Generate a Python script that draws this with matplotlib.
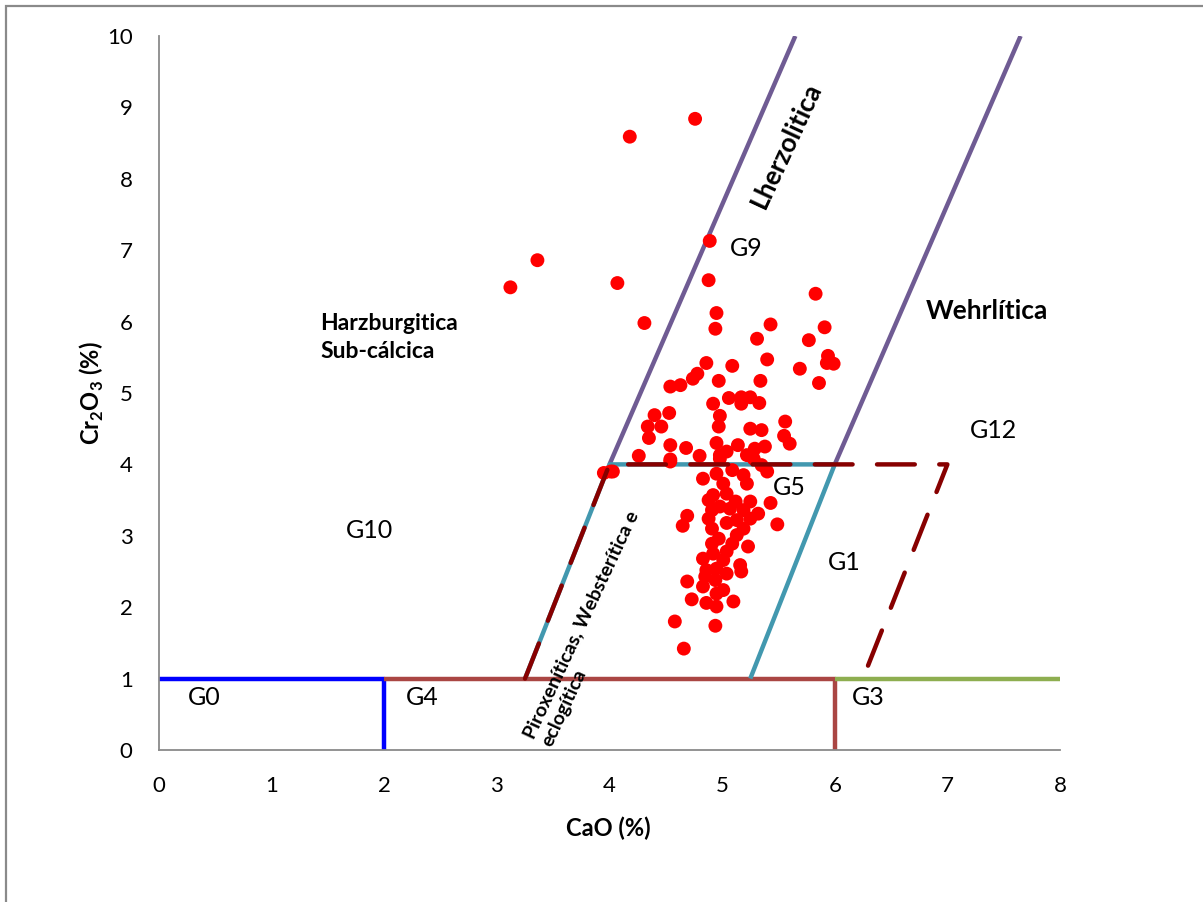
import matplotlib
matplotlib.use("Agg")
import matplotlib.pyplot as plt
from matplotlib.patches import Rectangle

plt.rcParams['font.family'] = ['Lato', 'DejaVu Sans']
plt.rcParams['mathtext.fontset'] = 'custom'
plt.rcParams['mathtext.rm'] = 'Lato:bold'
plt.rcParams['mathtext.bf'] = 'Lato:bold'

# Garnet analyses: CaO (wt%) and Cr2O3 (wt%)
cao = [4.76, 4.18, 3.36, 3.12, 4.07, 4.31, 4.89, 4.88,
       5.83, 4.95, 4.94, 5.43, 5.91, 5.31, 5.77, 5.40, 5.94, 5.99, 5.93, 5.69,
       5.86, 5.09, 4.86, 4.78, 4.74, 4.97, 5.34, 4.54, 4.63, 4.92, 5.06, 5.17,
       5.17, 5.25, 5.33, 4.40, 4.53, 4.98, 4.97, 4.34, 4.46, 4.35, 5.25, 5.35,
       5.56, 5.55, 5.60, 4.54, 4.68, 4.80, 4.95, 5.04, 5.14, 5.29, 5.38, 4.26,
       4.54, 4.98, 5.22,
       4.54, 4.01, 4.03, 3.95, 5.28, 5.35, 5.40, 4.98, 4.83, 4.95, 5.09, 5.19,
       5.22, 5.01, 5.04, 4.92, 4.88, 5.12, 5.25, 5.43, 4.91, 4.98, 5.07, 5.19,
       5.32, 5.49, 4.69, 4.65, 4.88, 5.04, 5.13, 5.25, 4.91, 5.19, 4.97, 5.13,
       5.09, 4.91, 5.23, 5.04, 4.92, 4.83, 5.01, 5.16, 5.17, 4.86, 4.95, 5.04,
       4.85, 4.69, 4.94, 4.83, 5.01, 4.95, 4.73, 4.86, 4.95, 5.10, 4.58, 4.94,
       4.66]
cr2o3 = [8.84, 8.59, 6.86, 6.48, 6.54, 5.98, 7.13, 6.58,
         6.39, 6.12, 5.90, 5.96, 5.92, 5.76, 5.74, 5.47, 5.52, 5.41, 5.42, 5.34,
         5.14, 5.38, 5.42, 5.27, 5.20, 5.17, 5.17, 5.09, 5.11, 4.85, 4.93, 4.94,
         4.85, 4.94, 4.86, 4.69, 4.72, 4.68, 4.53, 4.53, 4.53, 4.37, 4.50, 4.48,
         4.60, 4.40, 4.29, 4.27, 4.23, 4.12, 4.30, 4.18, 4.27, 4.22, 4.25, 4.12,
         4.07, 4.13, 4.13,
         4.04, 3.90, 3.90, 3.88, 4.08, 3.99, 3.90, 4.08, 3.80, 3.87, 3.92, 3.85,
         3.73, 3.73, 3.59, 3.57, 3.50, 3.48, 3.48, 3.46, 3.36, 3.41, 3.38, 3.36,
         3.31, 3.16, 3.28, 3.14, 3.24, 3.18, 3.22, 3.24, 3.10, 3.10, 2.96, 3.01,
         2.89, 2.89, 2.85, 2.78, 2.75, 2.68, 2.66, 2.59, 2.50, 2.52, 2.54, 2.47,
         2.43, 2.36, 2.38, 2.29, 2.24, 2.19, 2.11, 2.06, 2.01, 2.08, 1.80, 1.74,
         1.42]

# Field boundaries (CaO, Cr2O3)
g0_x, g0_y = [0, 2, 2], [1, 1, 0]
g4_x, g4_y = [2, 6, 6], [1, 1, 0]
g3_x, g3_y = [6, 8], [1, 1]
lherz_x, lherz_y = [4, 5.65], [4, 10]
wehrl_x, wehrl_y = [6, 7.65], [4, 10]
g5_x, g5_y = [3.25, 4, 6, 5.25], [1, 4, 4, 1]
g12_x, g12_y = [3.25, 4, 7, 6.25], [1, 4, 4, 1]

fig = plt.figure(figsize=(12.03, 9.02), dpi=100)
fig.patches.append(Rectangle((6 / 1203, -0.05), 1.1, 1 - 6 / 902 + 0.05,
                             transform=fig.transFigure, fill=False,
                             edgecolor='#8a8a8a', linewidth=1.6))
ax = fig.add_axes([159 / 1203, 152 / 902, 901 / 1203, 714 / 902])

lw = 3.2
ax.plot(g0_x, g0_y, color='#0000ff', lw=lw, solid_capstyle='butt', zorder=2)
ax.plot(g4_x, g4_y, color='#aa4643', lw=lw, solid_capstyle='butt', zorder=2)
ax.plot(g3_x, g3_y, color='#8eae50', lw=lw, solid_capstyle='butt', zorder=2)
ax.plot(lherz_x, lherz_y, color='#6f5b93', lw=lw, solid_capstyle='butt', zorder=2)
ax.plot(wehrl_x, wehrl_y, color='#6f5b93', lw=lw, solid_capstyle='butt', zorder=2)
ax.plot(g5_x, g5_y, color='#4298af', lw=lw, solid_capstyle='butt', zorder=2)

ax.scatter(cao, cr2o3, s=100, color='#ff0000', edgecolors='none', zorder=3)

ax.plot(g12_x, g12_y, color='#870000', lw=lw, linestyle=(0, (8.5, 5.5)),
        dash_capstyle='round', zorder=4)

ax.set_xlim(0, 8)
ax.set_ylim(0, 10)
ax.set_xticks(range(0, 9))
ax.set_yticks(range(0, 11))
for side in ('top', 'right'):
    ax.spines[side].set_visible(False)
for side in ('left', 'bottom'):
    ax.spines[side].set_color('#8a8a8a')
    ax.spines[side].set_linewidth(1.3)
ax.tick_params(axis='both', length=0, labelsize=16, colors='black')
ax.tick_params(axis='y', pad=19)
ax.tick_params(axis='x', pad=19)

fig.text(608 / 1203, 1 - 828 / 902, 'CaO (%)', fontsize=17, fontweight='bold',
         ha='center', va='center')
fig.text(92 / 1203, 1 - 393 / 902, r'Cr$_{\mathbf{2}}$O$_{\mathbf{3}}$ (%)',
         fontsize=17, fontweight='bold', rotation=90, ha='center', va='center')

lab = dict(fontsize=18, ha='center', va='center')
ax.text(1.43, 5.78, 'Harzburgitica\nSub-cálcica', fontsize=16.5, fontweight='bold',
        ha='left', va='center', multialignment='left', linespacing=1.4)
ax.text(5.57, 8.47, 'Lherzolitica', fontsize=19, fontweight='bold',
        rotation=65, rotation_mode='anchor', ha='center', va='center')
ax.text(7.35, 6.15, 'Wehrlítica', fontsize=19, fontweight='bold',
        ha='center', va='center')
ax.text(3.83, 1.70, 'Piroxeníticas, Websterítica e\neclogítica', fontsize=14,
        fontweight='bold', rotation=65, rotation_mode='anchor', ha='center',
        va='center', multialignment='left', linespacing=1.2)
for txt, x, y in [('G9', 5.21, 7.03), ('G12', 7.41, 4.47), ('G5', 5.60, 3.68),
                  ('G1', 6.08, 2.62), ('G10', 1.87, 3.08), ('G0', 0.40, 0.73),
                  ('G4', 2.34, 0.73), ('G3', 6.30, 0.73)]:
    ax.text(x, y, txt, **lab)

fig.savefig('out.png', dpi=100)
